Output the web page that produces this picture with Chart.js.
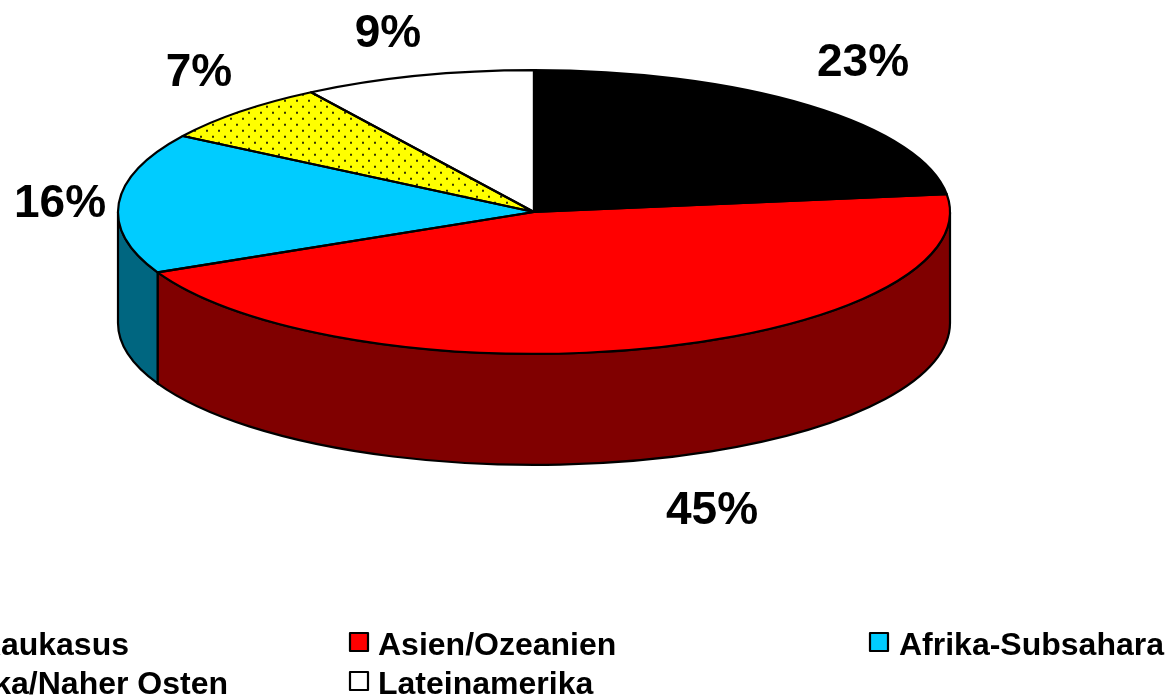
<!DOCTYPE html>
<html>
<head>
<meta charset="utf-8">
<style>
html, body { margin: 0; padding: 0; background: #fff; overflow: hidden; }
#wrap { position: relative; width: 1167px; height: 696px; }
</style>
<script src="https://cdn.jsdelivr.net/npm/chart.js@4"></script>
</head>
<body>
<div id="wrap"><canvas id="chart"></canvas></div>
<script>
// data
const categories = ['Europa/Kaukasus', 'Asien/Ozeanien', 'Afrika-Subsahara', 'Nordafrika/Naher Osten', 'Lateinamerika'];
const shares = [23, 45, 16, 7, 9];
const shareLabels = ['23%', '45%', '16%', '7%', '9%'];

// look of the slices
const topColors = ['#000000', '#ff0000', '#00ccff', '#ffff00', '#ffffff'];
const wallColors = ['#000000', '#800000', '#006680', '#808000', '#808080'];
const squash = 0.341;   // pie is a flat circle seen at an angle
const depth = 111;      // height of the cylinder wall

// where the texts sit
const labelPos = [[863, 63], [712, 511], [60, 204], [199, 73], [388, 34]];
const legendPos = [
    { box: -100, x: 129, y: 646, align: 'right' },
    { box: 350, x: 378, y: 646, align: 'left' },
    { box: 870, x: 899, y: 646, align: 'left' },
    { box: -100, x: 228, y: 685, align: 'right' },
    { box: 350, x: 378, y: 685, align: 'left' }
];

// dotted fill for the yellow slice
function dotPattern() {
    const tile = document.createElement('canvas');
    tile.width = 12;
    tile.height = 12;
    const t = tile.getContext('2d');
    t.fillStyle = '#ffff00';
    t.fillRect(0, 0, 12, 12);
    t.fillStyle = '#333300';
    t.fillRect(2, 2, 2, 2);
    t.fillRect(8, 8, 2, 2);
    const pattern = t.createPattern(tile, 'repeat');
    // undo the squash so the dots stay round
    pattern.setTransform(new DOMMatrix().scale(1, 1 / squash));
    return pattern;
}

function tracePiePath(ctx, arc) {
    const p = arc.getProps(['x', 'y', 'startAngle', 'endAngle', 'outerRadius']);
    ctx.beginPath();
    ctx.moveTo(p.x, p.y);
    ctx.ellipse(p.x, p.y, p.outerRadius, p.outerRadius * squash, 0, p.startAngle, p.endAngle);
    ctx.closePath();
}

// wall of one slice, only the part that faces the viewer (angles 0..PI)
function drawWall(ctx, arc, color) {
    const p = arc.getProps(['x', 'y', 'startAngle', 'endAngle', 'outerRadius']);
    const from = Math.max(p.startAngle, 0);
    const to = Math.min(p.endAngle, Math.PI);
    if (to <= from) return;
    const rx = p.outerRadius;
    const ry = rx * squash;
    ctx.beginPath();
    ctx.ellipse(p.x, p.y, rx, ry, 0, from, to);
    ctx.ellipse(p.x, p.y + depth, rx, ry, 0, to, from, true);
    ctx.closePath();
    ctx.fillStyle = color;
    ctx.fill();
    ctx.strokeStyle = '#000';
    ctx.lineWidth = 2.2;
    ctx.stroke();
}

const pie3d = {
    id: 'pie3d',
    beforeDatasetsDraw(chart) {
        const ctx = chart.ctx;
        const arcs = chart.getDatasetMeta(0).data;
        arcs.forEach((arc, i) => drawWall(ctx, arc, wallColors[i]));
        ctx.save();
        const cx = arcs[0].x, cy = arcs[0].y;
        ctx.translate(cx, cy);
        ctx.scale(1, squash);
        ctx.translate(-cx, -cy);
    },
    afterDatasetsDraw(chart) {
        const ctx = chart.ctx;
        ctx.restore();
        // outlines after the restore so the pen is not squashed
        chart.getDatasetMeta(0).data.forEach(arc => {
            tracePiePath(ctx, arc);
            ctx.strokeStyle = '#000';
            ctx.lineWidth = 2.2;
            ctx.lineJoin = 'round';
            ctx.stroke();
        });
    },
    afterDraw(chart) {
        const ctx = chart.ctx;
        ctx.save();
        ctx.fillStyle = '#000';
        ctx.textBaseline = 'middle';

        ctx.font = 'bold 46px "Liberation Sans", Arial, sans-serif';
        ctx.textAlign = 'center';
        shareLabels.forEach((s, i) => ctx.fillText(s, labelPos[i][0], labelPos[i][1]));

        ctx.font = 'bold 32px "Liberation Sans", Arial, sans-serif';
        categories.forEach((name, i) => {
            const pos = legendPos[i];
            ctx.fillStyle = topColors[i];
            ctx.fillRect(pos.box, pos.y - 13, 18, 18);
            ctx.strokeStyle = '#000';
            ctx.lineWidth = 2.2;
            ctx.strokeRect(pos.box, pos.y - 13, 18, 18);
            ctx.fillStyle = '#000';
            ctx.textAlign = pos.align;
            ctx.fillText(name, pos.x, pos.y);
        });
        ctx.restore();
    }
};

const colors = topColors.slice();
colors[3] = dotPattern();

new Chart(document.getElementById('chart'), {
    type: 'pie',
    data: {
        labels: categories,
        datasets: [{
            data: shares,
            backgroundColor: colors,
            borderWidth: 0,
            radius: 416,
            clip: false
        }]
    },
    options: {
        responsive: true,
        maintainAspectRatio: false,
        animation: false,
        layout: { padding: { left: 0, right: 99, top: 0, bottom: 272 } },
        plugins: {
            legend: { display: false },
            tooltip: { enabled: false }
        }
    },
    plugins: [pie3d]
});
</script>
</body>
</html>
